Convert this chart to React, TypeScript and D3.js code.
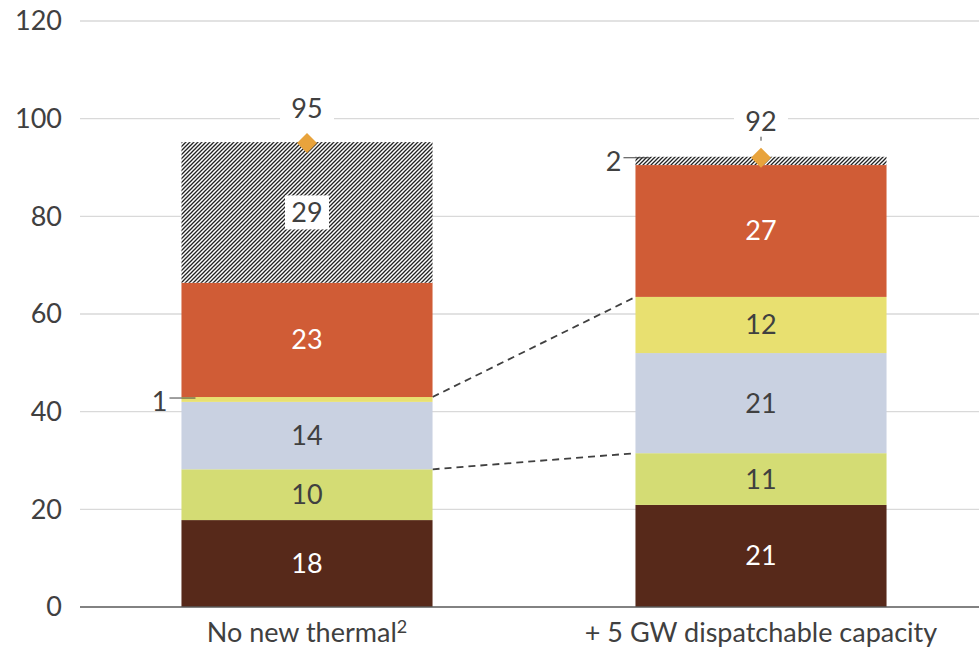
import * as d3 from "d3";

const categories = ["No new thermal", "+ 5 GW dispatchable capacity"];
const seriesNames = ["s1", "s2", "s3", "s4", "s5", "s6"];
const noNewThermal = [17.8, 10.4, 13.8, 1.0, 23.4, 28.8];
const plusFiveGW = [20.9, 10.6, 20.5, 11.5, 27.0, 1.7];
const totals = [95, 92];
const yTicks = [0, 20, 40, 60, 80, 100, 120];

const colors = ["#57291A", "#D4DC74", "#C9D1E1", "#E8E070", "#D05C36", "url(#hatch)"];
const labelColors = ["#fff", "#404040", "#404040", "#404040", "#fff", "#404040"];

const W = 979;
const H = 648;
const margin = { left: 80, right: -9, top: 21, bottom: 41 };

export default function App() {
  const x = d3
    .scaleBand<string>()
    .domain(categories)
    .range([margin.left, W - margin.right])
    .paddingInner(0.447)
    .paddingOuter(0.2235);
  const y = d3.scaleLinear().domain([0, 120]).range([H - margin.bottom, margin.top]);

  const rows = [noNewThermal, plusFiveGW];
  const stacked = rows.map((vals) => {
    let acc = 0;
    return vals.map((v) => {
      const y0 = acc;
      acc += v;
      return { y0, y1: acc, v };
    });
  });

  const bw = x.bandwidth();
  const font = "Lato, 'Open Sans', sans-serif";
  const textColor = "#404040";
  const fs = 27;

  return (
    <svg width={W} height={H} style={{ position: "absolute", left: 0, top: 0 }} fontFamily={font}>
      <defs>
        <pattern id="hatch" patternUnits="userSpaceOnUse" width="4" height="4">
          <rect width="4" height="4" fill="#fff" />
          <path d="M-1,1 l2,-2 M0,4 l4,-4 M3,5 l2,-2" stroke="#222" strokeWidth="1.3" />
        </pattern>
      </defs>
      {yTicks.map((t) => (
        <g key={t}>
          {t > 0 && (
            <line x1={margin.left} x2={W} y1={y(t)} y2={y(t)} stroke="#d9d9d9" strokeWidth={1.3} />
          )}
          <text x={62} y={y(t)} dy="0.35em" textAnchor="end" fontSize={fs} fill={textColor}>
            {t}
          </text>
        </g>
      ))}

      {/* connector dashes */}
      {[1, 3].map((si) => (
        <line
          key={si}
          x1={x(categories[0])! + bw}
          y1={y(stacked[0][si].y1)}
          x2={x(categories[1])!}
          y2={y(stacked[1][si].y1)}
          stroke="#404040"
          strokeWidth={1.8}
          strokeDasharray="7,5"
        />
      ))}

      {categories.map((c, ci) => (
        <g key={c}>
          {stacked[ci].map((s, si) => (
            <rect
              key={seriesNames[si]}
              x={x(c)}
              width={bw}
              y={y(s.y1)}
              height={y(s.y0) - y(s.y1)}
              fill={colors[si]}
            />
          ))}
        </g>
      ))}

      {/* segment labels */}
      {categories.map((c, ci) =>
        stacked[ci].map((s, si) => {
          const cx = x(c)! + bw / 2;
          const cy = (y(s.y0) + y(s.y1)) / 2;
          const label = String(Math.round(s.v));
          if (s.v < 3) {
            const lx = x(c)! - 14;
            const ly = y(s.y1) + 1;
            return (
              <g key={si}>
                <line x1={lx + 2} x2={x(c)! + 14} y1={ly} y2={ly} stroke="#404040" strokeWidth={1} />
                <text x={lx} y={ly + 4} dy="0.35em" textAnchor="end" fontSize={fs} fill={textColor}>
                  {label}
                </text>
              </g>
            );
          }
          return (
            <g key={si}>
              {si === 5 && <rect x={cx - 22} y={cy - 17} width={44} height={34} fill="#fff" />}
              <text x={cx} y={cy} dy="0.35em" textAnchor="middle" fontSize={fs} fill={labelColors[si]}>
                {label}
              </text>
            </g>
          );
        })
      )}

      {/* totals */}
      {categories.map((c, ci) => {
        const cx = x(c)! + bw / 2;
        const ty = y(totals[ci]);
        const labelY = ci === 0 ? ty - 35 : ty - 36;
        return (
          <g key={c}>
            <rect x={cx - 27} y={labelY - 16} width={54} height={32} fill="#fff" />
            <text x={cx} y={labelY} dy="0.35em" textAnchor="middle" fontSize={fs} fill={textColor}>
              {totals[ci]}
            </text>
            {ci === 1 && <line x1={cx} x2={cx} y1={ty - 21} y2={ty - 17} stroke="#404040" strokeWidth={1} />}
            <path
              d={`M${cx},${ty - 10} L${cx + 10},${ty} L${cx},${ty + 10} L${cx - 10},${ty} Z`}
              fill="#E8A33C"
            />
          </g>
        );
      })}

      <line x1={margin.left} x2={W} y1={y(0)} y2={y(0)} stroke="#595959" strokeWidth={1.5} />

      {categories.map((c, ci) => (
        <text
          key={c}
          x={x(c)! + bw / 2}
          y={y(0) + 26}
          dy="0.35em"
          textAnchor="middle"
          fontSize={fs}
          fill={textColor}
        >
          {c}
          {ci === 0 && (
            <tspan dy="-9" fontSize={18}>
              2
            </tspan>
          )}
        </text>
      ))}
    </svg>
  );
}
